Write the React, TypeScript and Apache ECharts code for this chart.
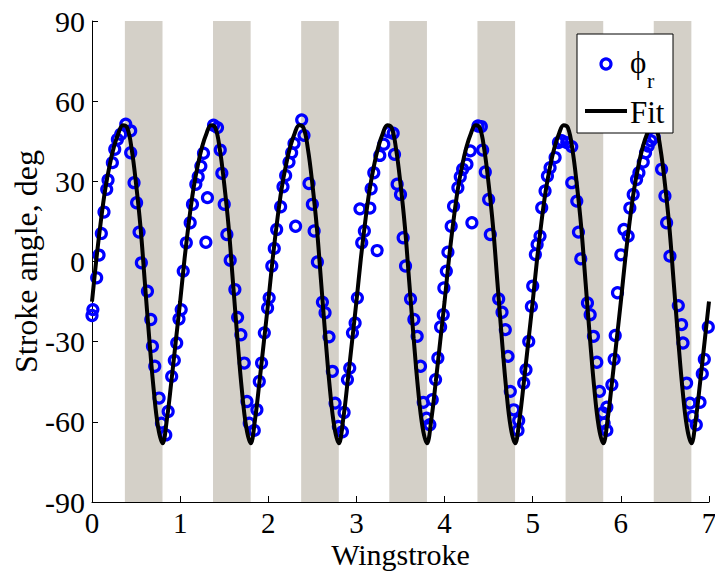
import React, { useEffect, useRef } from "react";
import * as echarts from "echarts";

// Measured stroke angle phi_r (deg) at each sample time (wingstrokes)
const strokeTimes = [
  0.0, 0.01, 0.053, 0.08, 0.106, 0.136, 0.167, 0.182, 0.231, 0.258, 0.288, 0.326, 0.383, 0.439, 0.439, 0.477, 0.506, 0.534, 0.56, 0.629, 0.667, 0.686, 0.712, 0.761, 0.788, 0.837, 0.864, 0.904, 0.934, 0.961, 0.987, 1.012, 1.035, 1.07,
  1.114, 1.14, 1.178, 1.205, 1.235, 1.265, 1.31, 1.292, 1.379, 1.424, 1.455, 1.473, 1.5, 1.53, 1.568, 1.621, 1.652, 1.689, 1.727, 1.758, 1.784, 1.841, 1.871, 1.898, 1.924, 1.955, 1.992, 2.01, 2.04, 2.068, 2.095,
  2.14, 2.167, 2.197, 2.235, 2.265, 2.292, 2.31, 2.379, 2.405, 2.462, 2.5, 2.52, 2.557, 2.614, 2.644, 2.689, 2.727, 2.758, 2.795, 2.841, 2.86, 2.898, 2.924, 2.955, 2.985, 3.011, 3.04, 3.06, 3.09,
  3.152, 3.167, 3.197, 3.235, 3.265, 3.31, 3.367, 3.417, 3.432, 3.462, 3.5, 3.53, 3.557, 3.614, 3.652, 3.689, 3.727, 3.758, 3.795, 3.833, 3.86, 3.898, 3.924, 3.955, 3.985, 3.992, 4.02, 4.038, 4.075,
  4.102, 4.151, 4.178, 4.205, 4.254, 4.292, 4.31, 4.379, 4.417, 4.432, 4.462, 4.5, 4.519, 4.614, 4.652, 4.689, 4.72, 4.746, 4.784, 4.841, 4.833, 4.898, 4.924, 4.955, 4.985, 5.0, 5.03, 5.05,
  5.083, 5.102, 5.14, 5.167, 5.197, 5.254, 5.292, 5.33, 5.386, 5.443, 5.443, 5.5, 5.519, 5.545, 5.621, 5.652, 5.689, 5.727, 5.758, 5.795, 5.841, 5.81, 5.841, 5.898, 5.924, 5.936, 5.962, 6.0, 6.035,
  6.083, 6.102, 6.14, 6.178, 6.205, 6.254, 6.28, 6.31, 6.34, 6.379, 6.462, 6.5, 6.519, 6.557, 6.652, 6.689, 6.705, 6.746, 6.784, 6.81, 6.856, 6.898, 6.924, 6.947, 6.992,
];
const strokeAngles = [
  -20.2, -18, -6.1, 2.4, 10.5, 18.5, 27, 30.5, 37, 42, 45.7, 47.6, 51.4, 48.9, 40.7, 29.5, 22, 11, -0.5, -11.1, -21.7, -31.7, -39.2, -51.1, -60.5, -64.9, -56.1, -43, -37, -30.5, -21.5, -18, -3.6, 7,
  14.5, 21.4, 28.9, 31.7, 35.7, 40.5, 23.9, 7.2, 51, 50.1, 41.7, 33, 21.4, 10.1, 0.5, -10.5, -20.9, -27.4, -38, -52.4, -60.5, -63.2, -55.5, -44.9, -38, -26.7, -17.4, -13.6, -1.7, 4.9, 12,
  20.5, 28, 32.2, 37.2, 40.7, 44.2, 13.2, 53, 47.2, 29.2, 21.4, 11.4, -0.2, -15.2, -19.2, -28.2, -41.1, -53, -61.7, -63.7, -56.5, -44.2, -39.9, -26.7, -23, -13.6, 19.7, 7, 11.4,
  20, 27.2, 33.2, 4.1, 39.7, 43.9, 48.5, 48, 40.1, 28.9, 25.1, 8.9, -1.7, -14, -21.7, -28, -39.2, -52.7, -58.6, -61.1, -51.7, -44.2, -36.1, -24.5, -19.9, -9.9, -3.6, 3.5, 13.2,
  20.7, 27.6, 31.7, 34.5, 36.4, 41.4, 14.5, 50.7, 50.5, 41.7, 33.5, 23.2, 10.1, -14, -19, -25.5, -35.5, -48.6, -55.5, -59.5, -63.2, -45.5, -40.5, -29.9, -16.8, -9.2, 2.6, 6.4,
  9.5, 20.1, 26.4, 32, 35.1, 38.9, 44.5, 45.2, 44.5, 43, 29.5, 22.6, 11, 1, -15.5, -19.9, -28, -37.7, -48.6, -56.7, -54.5, -60.5, -63.2, -46.1, -36.6, -27.7, -11.7, 2.5, 12,
  9.5, 20, 25.1, 30.7, 33.2, 37.2, 40.7, 43.2, 45.2, 46.5, 34.5, 24.5, 14.5, 2, -16.5, -23.6, -30.5, -45.5, -53, -58, -61.1, -52.7, -42, -36.6, -24.5,
];

// Fitted curve over one wingstroke (phase 0..1)
const fitPhase = [0, 0.05, 0.1, 0.15, 0.2, 0.25, 0.3, 0.35, 0.4, 0.45, 0.5, 0.55, 0.6, 0.65, 0.7, 0.75, 0.8, 0.85, 0.9, 0.95, 1.0];
const fitCycle = [-15, 1, 15, 27, 36, 43, 48, 51, 50, 42, 29, 13, -8, -29, -48, -62, -68, -59, -45, -30, -15];
const wingstrokes = [0, 1, 2, 3, 4, 5, 6];

// Shaded intervals (wingstrokes)
const bandStart = [0.373, 1.373, 2.373, 3.373, 4.373, 5.373, 6.373];
const bandEnd = [0.8, 1.8, 2.8, 3.8, 4.8, 5.8, 6.8];

const FONT = "Liberation Serif";

export default function App() {
  const ref = useRef<HTMLDivElement>(null);
  useEffect(() => {
    document.body.style.margin = "0";
    if (!ref.current) return;
    const chart = echarts.init(ref.current, undefined, { renderer: "svg" });

    const scatterData = strokeTimes.map((t, i) => [t, strokeAngles[i]]);
    const fitData: number[][] = [];
    wingstrokes.forEach((k, ki) => {
      fitPhase.forEach((p, i) => {
        if (i === fitPhase.length - 1 && ki !== wingstrokes.length - 1) return;
        fitData.push([Math.round((k + p) * 1000) / 1000, fitCycle[i]]);
      });
    });
    const bands = bandStart.map((s, i) => [{ xAxis: s }, { xAxis: bandEnd[i] }]);

    const axisCommon = {
      axisLine: { show: true, onZero: false, lineStyle: { color: "#000", width: 1 } },
      axisTick: { show: true, inside: true, length: 6, lineStyle: { color: "#000" } },
      splitLine: { show: false },
    };

    chart.setOption({
      animation: false,
      backgroundColor: "#fff",
      grid: { left: 92, right: 6, top: 21, bottom: 69, containLabel: false, outerBoundsMode: "none" },
      xAxis: {
        type: "value", min: 0, max: 7, interval: 1, position: "bottom",
        ...axisCommon,
        axisLabel: { color: "#000", fontFamily: FONT, fontSize: 29, lineHeight: 27, margin: 7 },
        name: "Wingstroke", nameLocation: "middle", nameGap: 37, nameMoveOverlap: false,
        nameTextStyle: { color: "#000", fontFamily: FONT, fontSize: 30, lineHeight: 30 },
      },
      yAxis: {
        type: "value", min: -90, max: 90, interval: 30, position: "left",
        ...axisCommon,
        axisLabel: { color: "#000", fontFamily: FONT, fontSize: 30, margin: 7 },
        name: "Stroke angle, deg", nameLocation: "middle", nameGap: 50, nameMoveOverlap: false,
        nameTextStyle: { color: "#000", fontFamily: FONT, fontSize: 32 },
      },
      series: [
        {
          type: "line", data: [], silent: true, z: 1,
          markArea: { silent: true, itemStyle: { color: "#d4d0c8" }, data: bands },
        },
        {
          name: "phi_r", type: "scatter", data: scatterData, z: 3,
          symbol: "circle", symbolSize: 10,
          itemStyle: { color: "rgba(0,0,0,0)", borderColor: "#0000ff", borderWidth: 3.2, opacity: 1 },
        },
        {
          name: "Fit", type: "line", data: fitData, z: 4, smooth: 0.4,
          showSymbol: false, lineStyle: { color: "#000", width: 4 },
        },
      ],
      graphic: [
        { type: "rect", z: 100, shape: { x: 577, y: 34, width: 96, height: 99 }, style: { fill: "#fff", stroke: "#000", lineWidth: 1 } },
        { type: "circle", z: 101, shape: { cx: 606, cy: 64, r: 5 }, style: { fill: "none", stroke: "#0000ff", lineWidth: 3.2 } },
        { type: "text", z: 101, x: 630, y: 62, style: { text: "ϕ", font: `31px ${FONT}`, fill: "#000", verticalAlign: "middle", align: "left" } },
        { type: "text", z: 101, x: 647, y: 80, style: { text: "r", font: `22px ${FONT}`, fill: "#000", verticalAlign: "middle", align: "left" } },
        { type: "line", z: 101, shape: { x1: 585, y1: 111, x2: 627, y2: 111 }, style: { stroke: "#000", lineWidth: 4 } },
        { type: "text", z: 101, x: 630, y: 112, style: { text: "Fit", font: `31px ${FONT}`, fill: "#000", verticalAlign: "middle", align: "left" } },
      ],
    });
    return () => chart.dispose();
  }, []);
  return <div ref={ref} style={{ width: 715, height: 571 }} />;
}
